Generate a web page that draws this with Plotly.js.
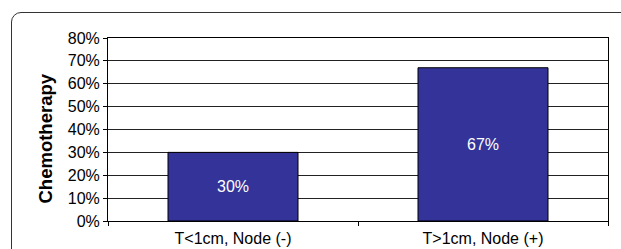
<!DOCTYPE html>
<html>
<head>
<meta charset="utf-8">
<script src="https://cdn.plot.ly/plotly-3.0.1.min.js"></script>
<style>
  html, body { margin: 0; padding: 0; width: 621px; height: 249px; overflow: hidden; background: #fff; }
  #frame { position: absolute; left: 11px; top: 12px; width: 640px; height: 270px;
           border: 1.5px solid #333; border-radius: 10px; box-sizing: border-box; }
  #chart { position: absolute; left: 0; top: 0; width: 621px; height: 249px; }
</style>
</head>
<body>
<div id="frame"></div>
<div id="chart"></div>
<script>
const categories = ["T<1cm, Node (-)", "T>1cm, Node (+)"];
const values = [30, 67];
const labels = ["30%", "67%"];
const yTitle = "Chemotherapy";

const trace = {
  type: 'bar',
  x: categories,
  y: values,
  text: labels,
  textposition: 'inside',
  insidetextanchor: 'middle',
  textangle: 0,
  textfont: { family: 'Liberation Sans, Arial, sans-serif', size: 16, color: '#ffffff' },
  marker: { color: '#333399', line: { color: '#000000', width: 1 } },
  width: 0.52,
  hoverinfo: 'none'
};

const layout = {
  width: 621, height: 249,
  margin: { l: 108, r: 13, t: 38, b: 28, pad: 0 },
  paper_bgcolor: 'rgba(0,0,0,0)',
  plot_bgcolor: '#ffffff',
  showlegend: false,
  font: { family: 'Liberation Sans, Arial, sans-serif', size: 16, color: '#000' },
  xaxis: {
    type: 'category',
    tickson: 'boundaries',
    ticks: 'outside', ticklen: 4, tickcolor: '#000', tickwidth: 1,
    ticklabelstandoff: 3,
    showline: true, linecolor: '#000', linewidth: 1, mirror: true,
    showgrid: false, zeroline: false,
    tickfont: { size: 16, color: '#000' }
  },
  yaxis: {
    range: [0, 80], dtick: 10, ticksuffix: '%',
    ticks: 'outside', ticklen: 4, tickcolor: '#000', tickwidth: 1,
    showline: true, linecolor: '#000', linewidth: 1, mirror: true,
    showgrid: true, gridcolor: '#222', gridwidth: 1,
    zeroline: false,
    tickfont: { size: 16, color: '#000' }
  },
  annotations: [{
    text: '<b>' + yTitle + '</b>',
    xref: 'paper', yref: 'paper',
    x: -0.125, y: 0.448,
    xanchor: 'center', yanchor: 'middle',
    textangle: -90, showarrow: false,
    font: { size: 18.5, color: '#000' }
  }]
};

Plotly.newPlot('chart', [trace], layout, { staticPlot: true, displayModeBar: false });
</script>
</body>
</html>
